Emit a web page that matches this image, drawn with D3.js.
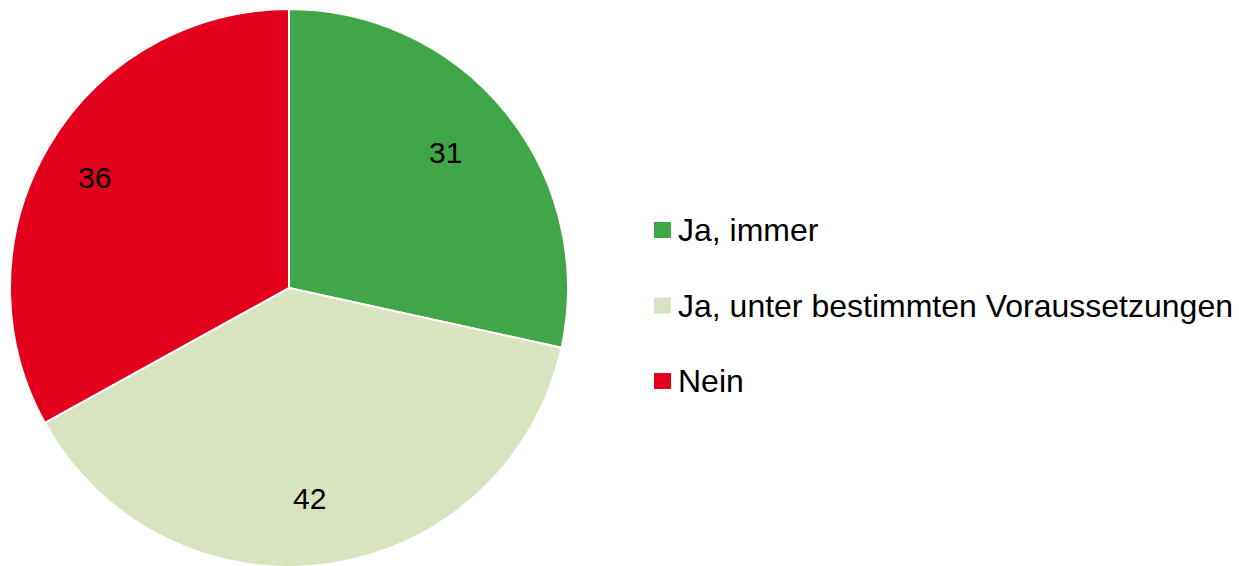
<!DOCTYPE html>
<html><head><meta charset="utf-8">
<script src="https://cdn.jsdelivr.net/npm/d3@7"></script>
<style>body{margin:0;background:#fff}svg{display:block}</style>
</head><body>
<svg id="c" width="1239" height="566"></svg>
<script>
const categories = ["Ja, immer", "Ja, unter bestimmten Voraussetzungen", "Nein"];
const values = [31, 42, 36];
const colors = ["#41a647", "#d8e4c0", "#e2001d"];

const svg = d3.select("#c");
const cx = 289, cy = 288, R = 279;
const font = "'Liberation Sans', Arial, sans-serif";
const g = svg.append("g").attr("transform", `translate(${cx},${cy})`);
const pie = d3.pie().sort(null).value(d => d)(values);
const arc = d3.arc().innerRadius(0).outerRadius(R);
const labelArc = d3.arc().innerRadius(214).outerRadius(214);

g.selectAll("path").data(pie).join("path")
  .attr("d", arc).attr("fill", (d, i) => colors[i])
  .attr("stroke", "#fff").attr("stroke-width", 2).attr("stroke-linejoin", "round");

g.selectAll("text").data(pie).join("text")
  .attr("transform", d => `translate(${labelArc.centroid(d)})`)
  .attr("text-anchor", "middle").attr("dx", -10).attr("dy", "0.3em")
  .attr("font-family", font).attr("font-size", 30)
  .attr("fill", "#000").text(d => d.data);

const leg = svg.append("g").attr("transform", "translate(654,0)");
const ly = d3.scalePoint().domain(categories).range([230, 381]);
categories.forEach((c, i) => {
  const y = ly(c);
  leg.append("rect").attr("x", 0).attr("y", y - 8).attr("width", 17).attr("height", 16).attr("fill", colors[i]);
  leg.append("text").attr("x", 24).attr("y", y).attr("dy", "0.35em")
    .attr("font-family", font).attr("font-size", 32)
    .attr("fill", "#000").text(c);
});
</script>
</body></html>
